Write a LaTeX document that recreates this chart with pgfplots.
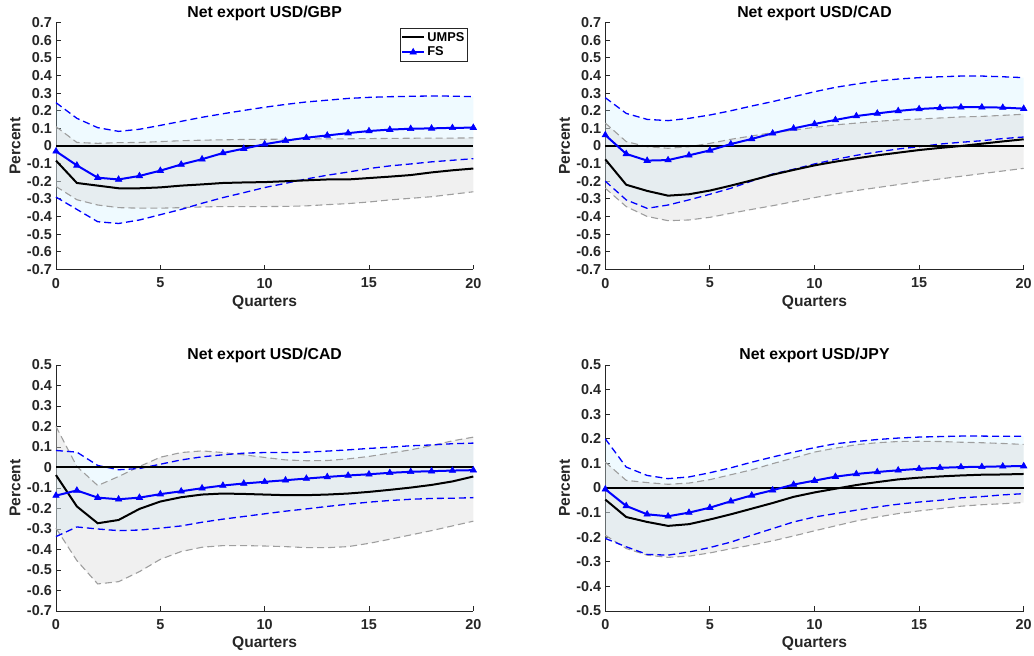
\documentclass[border=0pt]{standalone}
\usepackage{fontspec}
\setmainfont{Liberation Sans}
\usepackage{pgfplots}
\pgfplotsset{compat=1.18}
\usepackage{pgfplotstable}
\usepgfplotslibrary{fillbetween}

\definecolor{axgray}{rgb}{0.15,0.15,0.15}
\definecolor{fsband}{rgb}{0.75,0.93,1.0}
\definecolor{umband}{rgb}{0.85,0.85,0.85}
\definecolor{umdash}{rgb}{0.62,0.62,0.62}

% Impulse responses: FS median with band (fslo, fshi), UMPS median with band (umlo, umhi)
\pgfplotstableread{
k  fs     fshi   fslo    um     umhi   umlo
0  -0.030 0.246 -0.290  -0.083  0.110 -0.230
1  -0.110 0.157 -0.360  -0.210  0.020 -0.305
2  -0.180 0.104 -0.430  -0.225  0.015 -0.335
3  -0.190 0.083 -0.440  -0.240  0.019 -0.350
4  -0.170 0.095 -0.420  -0.240  0.020 -0.353
5  -0.140 0.117 -0.390  -0.235  0.025 -0.353
6  -0.105 0.140 -0.360  -0.225  0.030 -0.350
7  -0.075 0.163 -0.325  -0.218  0.033 -0.346
8  -0.040 0.183 -0.293  -0.210  0.035 -0.344
9  -0.015 0.202 -0.265  -0.207  0.037 -0.344
10  0.010 0.220 -0.236  -0.205  0.038 -0.344
11  0.030 0.236 -0.212  -0.200  0.039 -0.343
12  0.047 0.250 -0.187  -0.195  0.040 -0.340
13  0.060 0.260 -0.166  -0.190  0.040 -0.333
14  0.073 0.270 -0.148  -0.190  0.041 -0.327
15  0.085 0.276 -0.128  -0.182  0.042 -0.318
16  0.093 0.280 -0.113  -0.174  0.043 -0.306
17  0.098 0.282 -0.102  -0.165  0.044 -0.297
18  0.100 0.284 -0.090  -0.150  0.045 -0.288
19  0.103 0.283 -0.081  -0.138  0.045 -0.274
20  0.104 0.280 -0.072  -0.128  0.046 -0.260
}\tabGBP

\pgfplotstableread{
k  fs     fshi   fslo    um     umhi   umlo
0   0.062 0.274 -0.200  -0.076  0.130 -0.240
1  -0.045 0.185 -0.306  -0.220  0.025 -0.344
2  -0.083 0.151 -0.354  -0.255 -0.004 -0.400
3  -0.080 0.144 -0.335  -0.282 -0.013 -0.424
4  -0.053 0.157 -0.306  -0.274 -0.004 -0.420
5  -0.025 0.176 -0.274  -0.253  0.015 -0.405
6   0.011 0.200 -0.240  -0.225  0.038 -0.382
7   0.040 0.227 -0.199  -0.195  0.057 -0.360
8   0.072 0.252 -0.159  -0.163  0.076 -0.339
9   0.100 0.280 -0.132  -0.136  0.090 -0.316
10  0.125 0.308 -0.102  -0.110  0.106 -0.293
11  0.148 0.333 -0.076  -0.089  0.120 -0.272
12  0.170 0.352 -0.053  -0.070  0.130 -0.253
13  0.185 0.369 -0.034  -0.053  0.140 -0.236
14  0.199 0.380 -0.017  -0.038  0.148 -0.219
15  0.210 0.388 -0.004  -0.023  0.153 -0.202
16  0.216 0.393  0.011  -0.011  0.159 -0.187
17  0.220 0.397  0.021   0.000  0.165 -0.172
18  0.220 0.397  0.030   0.013  0.168 -0.157
19  0.218 0.393  0.042   0.026  0.174 -0.142
20  0.212 0.388  0.051   0.038  0.180 -0.127
}\tabCADa

\pgfplotstableread{
k  fs     fshi   fslo    um     umhi   umlo
0  -0.137  0.083 -0.337 -0.037  0.200 -0.296
1  -0.112  0.075 -0.290 -0.190  0.005 -0.454
2  -0.147  0.010 -0.300 -0.272 -0.088 -0.568
3  -0.155 -0.011 -0.308 -0.256 -0.044 -0.557
4  -0.147 -0.005 -0.305 -0.202  0.005 -0.508
5  -0.130  0.016 -0.296 -0.166  0.050 -0.448
6  -0.116  0.037 -0.285 -0.145  0.073 -0.410
7  -0.101  0.052 -0.267 -0.132  0.081 -0.389
8  -0.088  0.062 -0.252 -0.127  0.073 -0.381
9  -0.078  0.070 -0.239 -0.129  0.062 -0.381
10 -0.070  0.073 -0.226 -0.132  0.049 -0.383
11 -0.062  0.073 -0.213 -0.135  0.037 -0.386
12 -0.054  0.075 -0.202 -0.135  0.033 -0.391
13 -0.046  0.080 -0.190 -0.132  0.034 -0.391
14 -0.039  0.086 -0.179 -0.127  0.042 -0.386
15 -0.033  0.093 -0.169 -0.119  0.054 -0.370
16 -0.026  0.099 -0.161 -0.109  0.070 -0.350
17 -0.021  0.106 -0.155 -0.098  0.086 -0.329
18 -0.018  0.110 -0.151 -0.085  0.107 -0.308
19 -0.015  0.116 -0.150 -0.068  0.130 -0.285
20 -0.013  0.119 -0.147 -0.044  0.148 -0.262
}\tabCADb

\pgfplotstableread{
k  fs     fshi   fslo    um     umhi   umlo
0  -0.005 0.200 -0.205  -0.047  0.105 -0.192
1  -0.073 0.085 -0.239  -0.118  0.031 -0.246
2  -0.107 0.051 -0.270  -0.138  0.022 -0.273
3  -0.115 0.038 -0.273  -0.154  0.015 -0.282
4  -0.100 0.045 -0.260  -0.147  0.020 -0.277
5  -0.080 0.062 -0.242  -0.128  0.034 -0.264
6  -0.054 0.082 -0.220  -0.107  0.054 -0.247
7  -0.030 0.105 -0.192  -0.084  0.074 -0.232
8  -0.009 0.126 -0.165  -0.061  0.099 -0.215
9   0.014 0.146 -0.138  -0.036  0.122 -0.195
10  0.030 0.164 -0.118  -0.018  0.146 -0.174
11  0.046 0.180 -0.104  -0.003  0.162 -0.154
12  0.057 0.189 -0.090   0.012  0.176 -0.134
13  0.065 0.197 -0.077   0.024  0.184 -0.118
14  0.072 0.203 -0.066   0.035  0.189 -0.104
15  0.078 0.207 -0.057   0.042  0.190 -0.093
16  0.082 0.209 -0.050   0.047  0.189 -0.084
17  0.085 0.211 -0.040   0.051  0.186 -0.074
18  0.086 0.211 -0.035   0.054  0.184 -0.068
19  0.088 0.210 -0.028   0.055  0.181 -0.064
20  0.089 0.210 -0.023   0.057  0.177 -0.059
}\tabJPY

\pgfplotsset{
  every axis title/.style={at={(axis description cs:0.5,1)}, anchor=base,
    yshift=5.5pt, font=\fontsize{15.8}{18}\selectfont\bfseries, text=black},
  irf/.style={
    scale only axis, xmin=0, xmax=20, clip=false,
    axis x line*=bottom, axis y line*=left,
    axis line style={draw=axgray, line width=0.9pt},
    every tick/.style={draw=axgray, line width=0.9pt},
    tick align=inside, major tick length=4.5pt,
    xtick={0,5,10,15,20},
    tick label style={font=\fontsize{14.4}{16}\selectfont\bfseries, text=axgray,
      /pgf/number format/fixed,
      /pgf/number format/precision=1,
      /pgf/number format/assume math mode=true},
    yticklabel style={anchor=east, inner sep=0pt, xshift=-4pt},
    xticklabel style={anchor=north, inner sep=0pt, yshift=-8.5pt},
    xlabel=Quarters, ylabel=Percent,
    label style={font=\fontsize{15.6}{18}\selectfont\bfseries, text=axgray},
    xlabel style={at={([yshift=-37pt]axis description cs:0.5,0)}, anchor=base},
    ylabel style={at={([xshift=-35.5pt]axis description cs:0,0.5)}, anchor=base},
    legend image code/.code={%
      \draw[mark repeat=2, mark phase=2, ##1]
        plot coordinates {(0pt,0pt) (11pt,0pt) (22pt,0pt)};},
  },
  fsdash/.style={blue, line width=1.3pt, dash pattern=on 7pt off 4pt, forget plot},
  umdashed/.style={umdash, line width=1.1pt, dash pattern=on 7pt off 4pt, forget plot},
  umline/.style={black, line width=2pt},
  fsline/.style={blue, line width=2pt, mark=triangle*, mark size=3.7pt,
    mark options={solid, fill=blue, line width=0.6pt}},
}

% one panel: shaded bands, their dashed edges, the zero line and both medians
\newcommand{\irfpanel}[1]{%
  \addplot[draw=none, forget plot, name path=fsU] table[x=k, y=fshi] {#1};
  \addplot[draw=none, forget plot, name path=fsL] table[x=k, y=fslo] {#1};
  \addplot[draw=none, forget plot, name path=umU] table[x=k, y=umhi] {#1};
  \addplot[draw=none, forget plot, name path=umL] table[x=k, y=umlo] {#1};
  \addplot[fill=fsband, fill opacity=0.25, draw=none, forget plot] fill between[of=fsU and fsL];
  \addplot[fill=umband, fill opacity=0.40, draw=none, forget plot] fill between[of=umU and umL];
  \addplot[umdashed] table[x=k, y=umhi] {#1};
  \addplot[umdashed] table[x=k, y=umlo] {#1};
  \addplot[fsdash] table[x=k, y=fshi] {#1};
  \addplot[fsdash] table[x=k, y=fslo] {#1};
  \addplot[black, line width=2pt, forget plot] coordinates {(0,0) (20,0)};
  \addplot[umline] table[x=k, y=um] {#1};
  \addplot[fsline] table[x=k, y=fs] {#1};
}

\begin{document}
\begin{tikzpicture}

\begin{axis}[irf, at={(56pt,386.7pt)}, anchor=south west,
  width=417.3pt, height=246.6pt, ymin=-0.7, ymax=0.7,
  ytick={-0.7,-0.6,-0.5,-0.4,-0.3,-0.2,-0.1,0,0.1,0.2,0.3,0.4,0.5,0.6,0.7},
  title={Net export USD/GBP},
  legend style={at={(axis description cs:0.987,0.978)}, anchor=north east,
    draw=axgray, line width=0.6pt, fill=white,
    font=\fontsize{12.8}{14}\selectfont\bfseries, text=black,
    inner xsep=1pt, inner ysep=1.5pt,
    nodes={inner sep=2.2pt}},
  legend cell align=left]
  \irfpanel{\tabGBP}
  \addlegendentry{UMPS}
  \addlegendentry{FS}
\end{axis}

\begin{axis}[irf, at={(605.3pt,386.7pt)}, anchor=south west,
  width=418.4pt, height=246.6pt, ymin=-0.7, ymax=0.7,
  ytick={-0.7,-0.6,-0.5,-0.4,-0.3,-0.2,-0.1,0,0.1,0.2,0.3,0.4,0.5,0.6,0.7},
  title={Net export USD/CAD}]
  \irfpanel{\tabCADa}
\end{axis}

\begin{axis}[irf, at={(56pt,45pt)}, anchor=south west,
  width=417.3pt, height=246pt, ymin=-0.7, ymax=0.5,
  ytick={-0.7,-0.6,-0.5,-0.4,-0.3,-0.2,-0.1,0,0.1,0.2,0.3,0.4,0.5},
  title={Net export USD/CAD}]
  \irfpanel{\tabCADb}
\end{axis}

\begin{axis}[irf, at={(605.3pt,45pt)}, anchor=south west,
  width=418.4pt, height=246pt, ymin=-0.5, ymax=0.5,
  ytick={-0.5,-0.4,-0.3,-0.2,-0.1,0,0.1,0.2,0.3,0.4,0.5},
  title={Net export USD/JPY}]
  \irfpanel{\tabJPY}
\end{axis}

% page frame of the whole figure
\pgfresetboundingbox
\path[use as bounding box] (0pt,0pt) rectangle (1034pt,656pt);
\end{tikzpicture}
\end{document}
